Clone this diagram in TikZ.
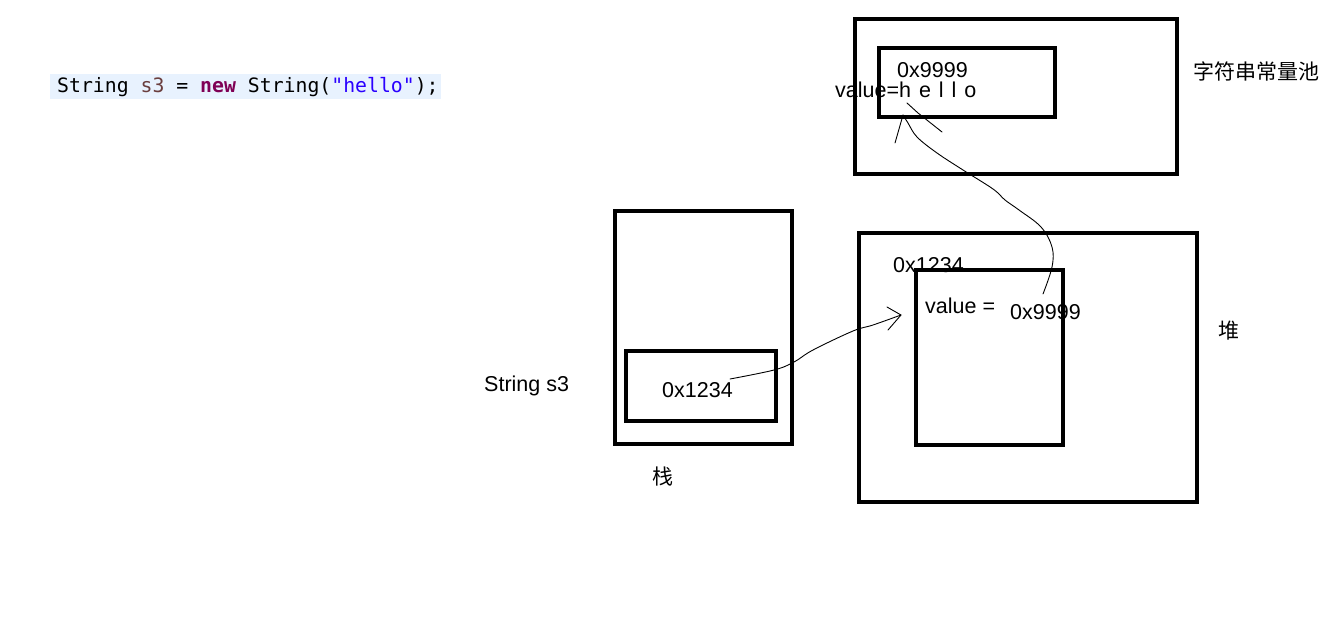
\documentclass[tikz,border=0pt]{standalone}
\usepackage{fontspec}
\setmainfont{Liberation Sans}
\newfontfamily\cjkfont{Noto Sans CJK SC}
\newfontfamily\codefont{DejaVu Sans Mono}
\definecolor{codebg}{RGB}{232,242,254}
\definecolor{codevar}{RGB}{106,62,62}
\definecolor{codekw}{RGB}{127,0,85}
\definecolor{codestr}{RGB}{42,0,255}
\begin{document}
\begin{tikzpicture}[x=1pt,y=-1pt,
  box/.style={draw=black,line width=4.5pt,inner sep=0pt,outer sep=0pt},
  lbl/.style={inner sep=0pt,anchor=base west,font=\fontsize{21.5}{25}\selectfont},
  cjk/.style={inner sep=0pt,anchor=base west,font=\fontsize{21}{25}\cjkfont},
  hand/.style={draw=black,line width=0.9pt,line cap=round,line join=round}]
\useasboundingbox (0,0) rectangle (1324,623);
\fill[white] (0,0) rectangle (1324,623);
% code line
\fill[codebg] (50,74) rectangle (441,99);
\node[inner sep=0pt,anchor=base west,font=\fontsize{19.8}{23}\codefont] (code) at (57,93)
 {String \textcolor{codevar}{s3} = \textcolor{codekw}{\bfseries new} String(\textcolor{codestr}{"hello"});};
% boxes
\node[box,minimum width=322pt,minimum height=155pt] (pool) at (1016,96.5) {};
\node[box,minimum width=176pt,minimum height=69pt] (poolin) at (967,82.5) {};
\node[box,minimum width=177pt,minimum height=233pt] (stack) at (703.5,327.5) {};
\node[box,minimum width=150pt,minimum height=70pt] (stackin) at (701,386) {};
\node[box,minimum width=338pt,minimum height=269pt] (heap) at (1028,367.5) {};
\node[box,minimum width=147pt,minimum height=175pt] (heapin) at (989.5,357.5) {};
% texts
\node[lbl] (p9) at (897,78) {0x9999};
\node[lbl] (pval) at (835,98) {value=h\hspace{2pt} e\hspace{2pt} l\hspace{2pt} l\hspace{2pt} o};
\node[cjk] (pool lbl) at (1193,80) {字符串常量池};
\node[lbl] (h1234) at (893,272) {0x1234};
\node[lbl] (hval) at (925,313) {value =};
\node[lbl] (h9) at (1010,319) {0x9999};
\node[cjk] (heap lbl) at (1218,338) {堆};
\node[lbl] (svar) at (484,391) {String s3};
\node[lbl] (s1234) at (662,397) {0x1234};
\node[cjk] (stack lbl) at (652,484) {栈};
% connector 1: stack -> heap object
\coordinate (a1s) at (730,379);
\coordinate (a1e) at (901,315);
\draw[hand] plot[smooth,tension=0.6] coordinates {(a1s) (774,370) (794,362) (813,350) (853,331) (873,325) (a1e)};
\draw[hand] (887,307) -- (a1e) -- (888,330);
% connector 2: heap value -> pool string
\coordinate (a2s) at (1043,294);
\coordinate (a2e) at (903,115);
\draw[hand] plot[smooth,tension=0.6] coordinates {(a2s) (1052,267) (1052,247) (1041,227) (1019,210) (1005,200) (993,189) (963,170) (937,153) (917,137) (908,123) (a2e)};
\draw[hand] (a2e) -- (895,143);
\draw[hand] (907,103) -- (918,113) -- (942,132);
\end{tikzpicture}
\end{document}
